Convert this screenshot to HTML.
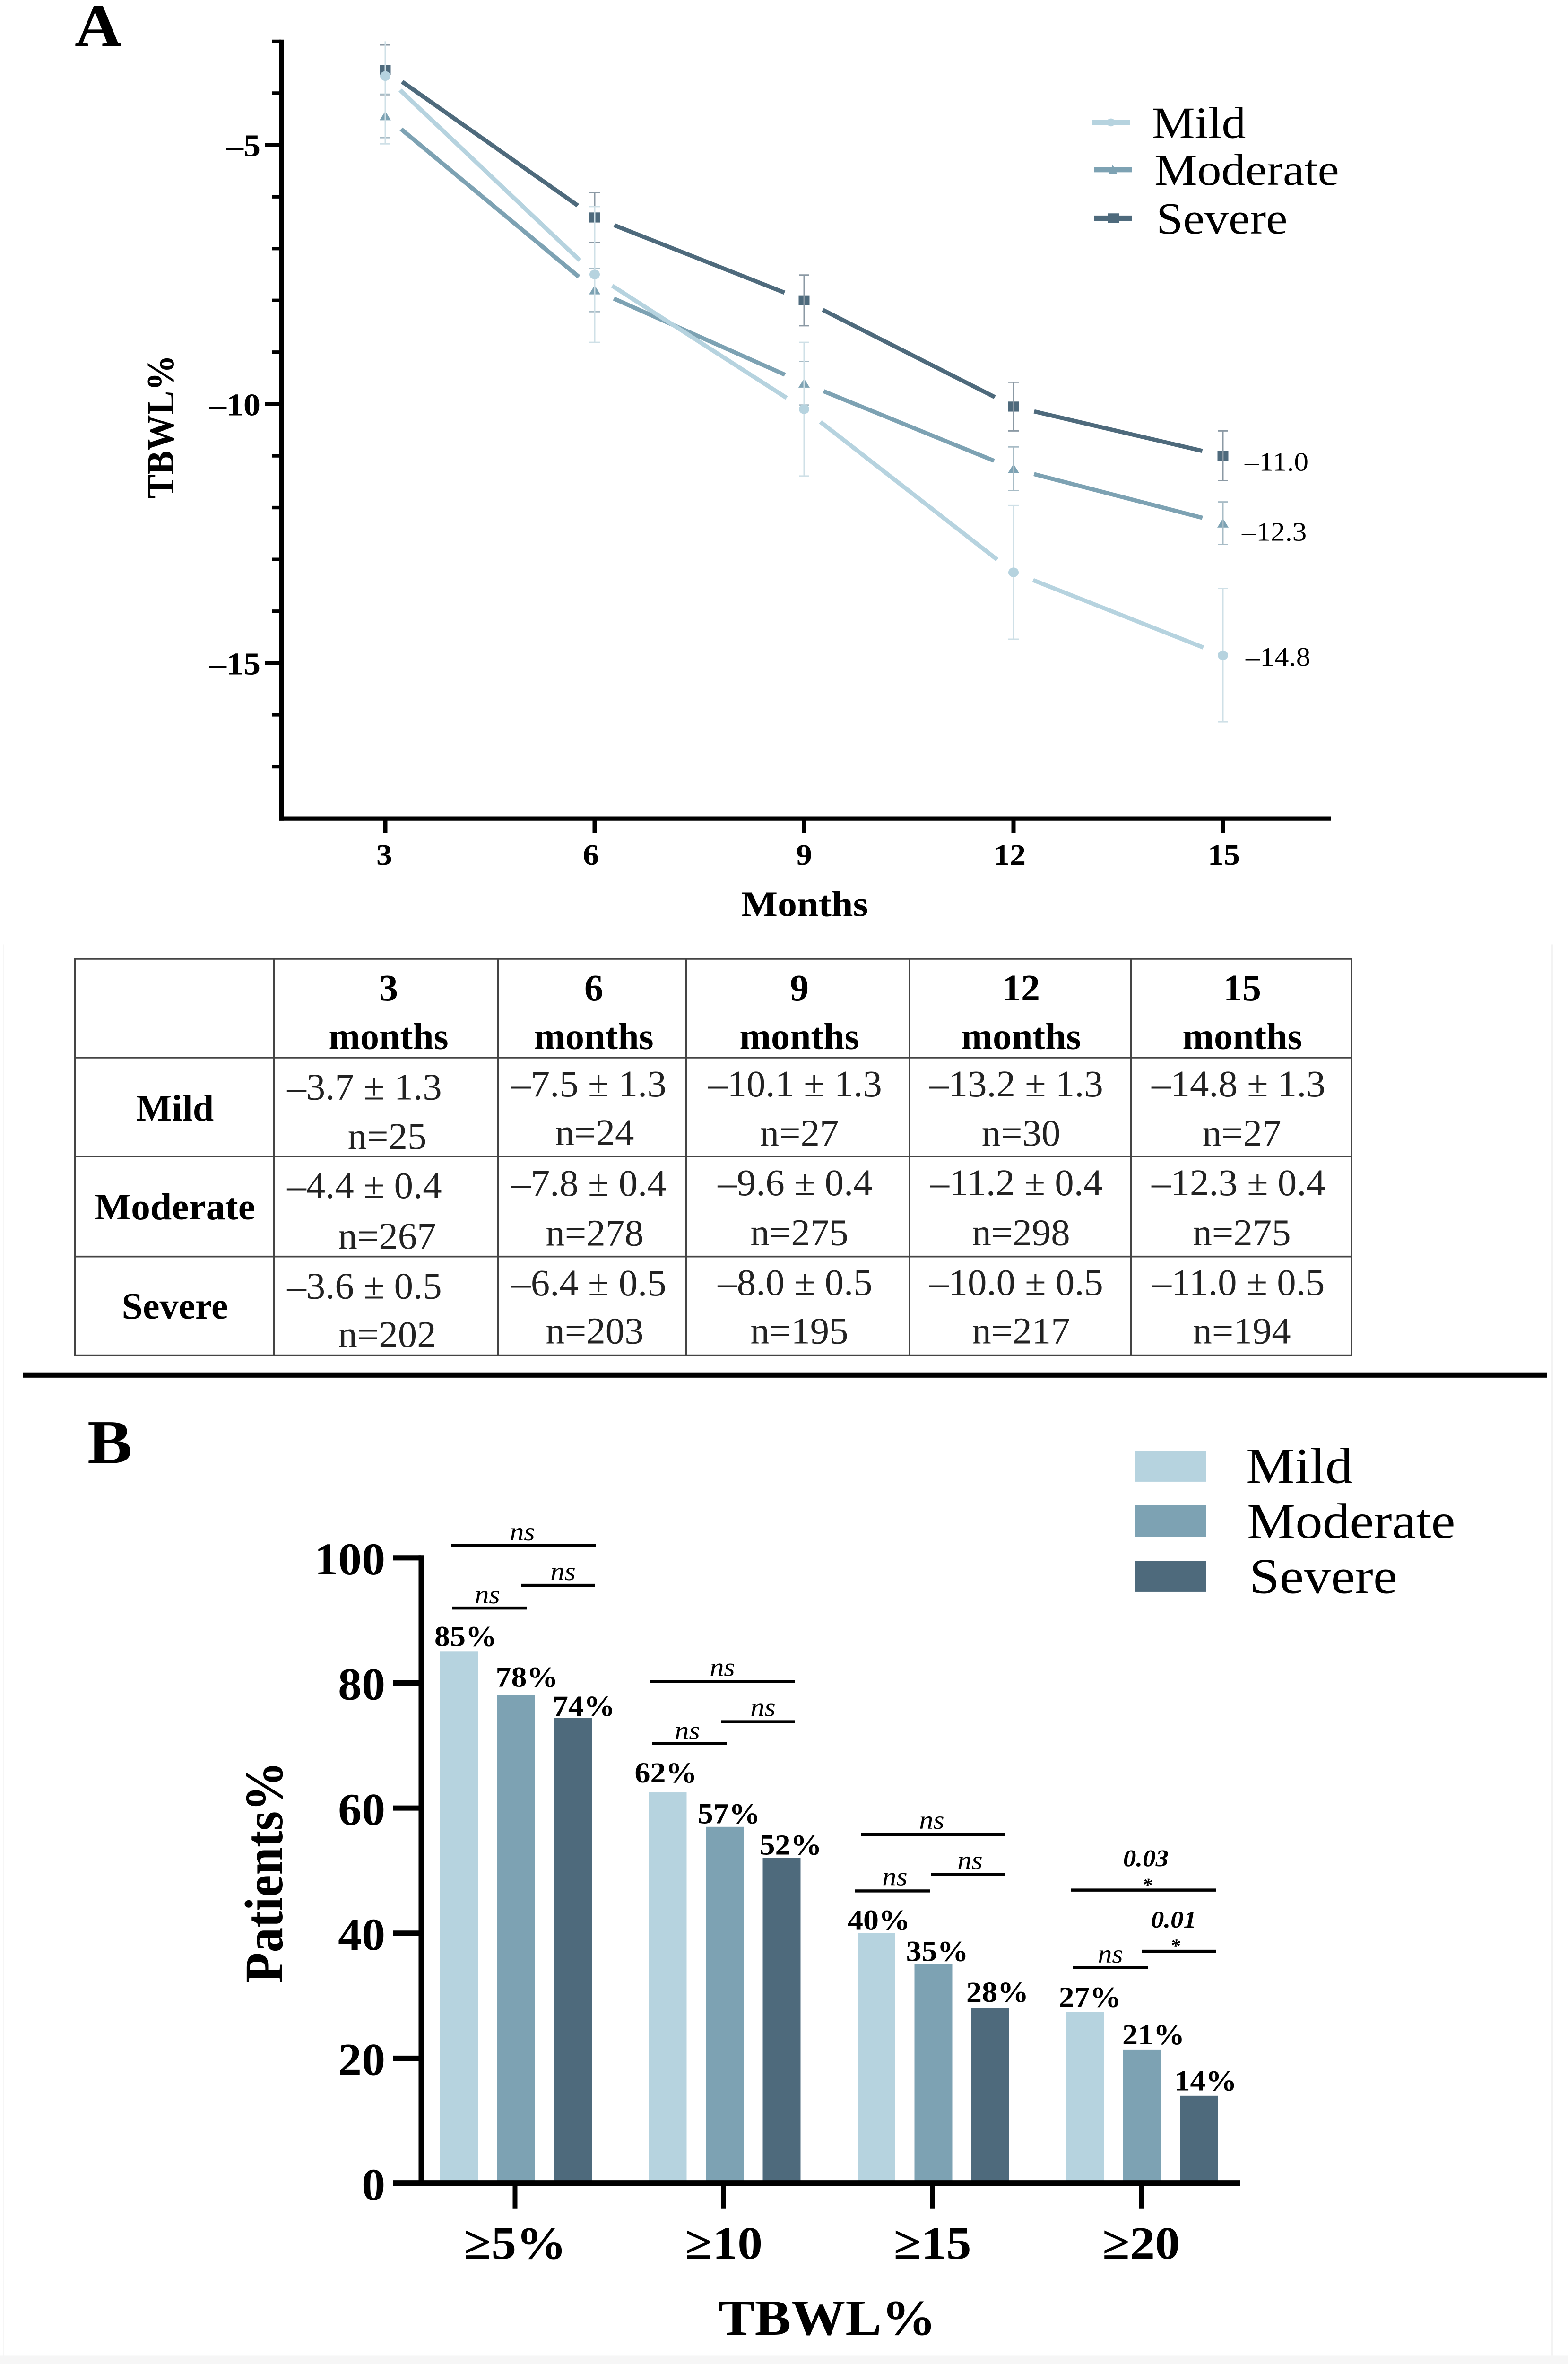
<!DOCTYPE html>
<html lang="en">
<head>
<meta charset="utf-8">
<title>TBWL% by obesity severity</title>
<style>
  html,body{margin:0;padding:0;background:#fff;width:100%;height:100%;overflow:hidden;}
  svg{display:block;width:100vw;height:100vh;font-family:"Liberation Serif",serif;}
  text{fill:#000;}
  .b{font-weight:bold;}
  .m{text-anchor:middle;}
  .e{text-anchor:end;}
  .tv{font-size:86px;text-anchor:middle;fill:#222;}
  .th{font-size:80px;font-weight:bold;text-anchor:middle;}
  .ns{font-size:60px;font-style:italic;text-anchor:middle;}
  .p{font-size:55px;font-style:italic;font-weight:bold;text-anchor:middle;}
  .s{font-size:42px;font-style:italic;font-weight:bold;text-anchor:middle;}
  .sig{stroke:#000;stroke-width:7;}
  .grid{stroke:#444;stroke-width:4;}
</style>
</head>
<body>
<svg id="fig" width="3317" height="5407" viewBox="0 0 3317 5407" preserveAspectRatio="none" xmlns="http://www.w3.org/2000/svg">
  <rect x="0" y="0" width="3317" height="5407" fill="#fff"/>
  <rect x="0" y="5388" width="3317" height="19" fill="#f6f6f6"/>
  <rect x="3282" y="2160" width="3" height="3228" fill="#f3f3f3"/>
  <rect x="6" y="2160" width="3" height="3228" fill="#f6f6f6"/>

  <!-- PANEL A -->
  <text x="158" y="105" font-size="138" class="b">A</text>
  <g id="chartA"></g>
  <text class="b m" font-size="82" transform="translate(367,976) rotate(-90)">TBWL%</text>
  <text class="b m" font-size="82" x="1702" y="2095">Months</text>

  <g>
    <g>
      <rect x="2311" y="274" width="79" height="12" fill="#b6d3df"/>
      <circle cx="2350" cy="280" r="9" fill="#b6d3df"/>
      <text x="2437" y="315" font-size="102">Mild</text>
    </g>
    <g>
      <rect x="2315" y="382" width="80" height="12" fill="#7da2b3"/>
      <polygon points="2354,377 2364,399 2344,399" fill="#7da2b3"/>
      <text x="2442" y="423" font-size="102">Moderate</text>
    </g>
    <g>
      <rect x="2315" y="493" width="80" height="12" fill="#4e6a7c"/>
      <rect x="2343" y="488" width="24" height="22" fill="#4e6a7c"/>
      <text x="2446" y="534" font-size="102">Severe</text>
    </g>
  </g>

  <!-- TABLE -->
  <g>
    <rect x="159" y="2193" width="2700" height="907" fill="none" class="grid"/>
    <line x1="579" y1="2193" x2="579" y2="3100" class="grid"/>
    <line x1="1054" y1="2193" x2="1054" y2="3100" class="grid"/>
    <line x1="1452" y1="2193" x2="1452" y2="3100" class="grid"/>
    <line x1="1924" y1="2193" x2="1924" y2="3100" class="grid"/>
    <line x1="2392" y1="2193" x2="2392" y2="3100" class="grid"/>
    <line x1="159" y1="2419" x2="2859" y2="2419" class="grid"/>
    <line x1="159" y1="2645" x2="2859" y2="2645" class="grid"/>
    <line x1="159" y1="2874" x2="2859" y2="2874" class="grid"/>

    <g>
      <text class="th" transform="translate(822,2288) scale(1,1.08)">3</text>
      <text class="th" transform="translate(822,2399) scale(1,1.08)">months</text>
      <text class="th" transform="translate(1256,2288) scale(1,1.08)">6</text>
      <text class="th" transform="translate(1256,2399) scale(1,1.08)">months</text>
      <text class="th" transform="translate(1691,2288) scale(1,1.08)">9</text>
      <text class="th" transform="translate(1691,2399) scale(1,1.08)">months</text>
      <text class="th" transform="translate(2160,2288) scale(1,1.08)">12</text>
      <text class="th" transform="translate(2160,2399) scale(1,1.08)">months</text>
      <text class="th" transform="translate(2628,2288) scale(1,1.08)">15</text>
      <text class="th" transform="translate(2628,2399) scale(1,1.08)">months</text>
    </g>

    <text class="th" transform="translate(370,2563) scale(1,1.08)">Mild</text>
    <text class="th" transform="translate(370,2789) scale(1.02,1.08)">Moderate</text>
    <text class="th" transform="translate(370,3016) scale(1,1.08)">Severe</text>

    <g>
      <text class="tv" transform="translate(771,2515) scale(.94,1)">–3.7 ± 1.3</text>
      <text class="tv" transform="translate(819,2628) scale(.94,1)">n=25</text>
      <text class="tv" transform="translate(1246,2508) scale(.94,1)">–7.5 ± 1.3</text>
      <text class="tv" transform="translate(1258,2619) scale(.94,1)">n=24</text>
      <text class="tv" transform="translate(1682,2508) scale(.94,1)">–10.1 ± 1.3</text>
      <text class="tv" transform="translate(1691,2620) scale(.94,1)">n=27</text>
      <text class="tv" transform="translate(2150,2508) scale(.94,1)">–13.2 ± 1.3</text>
      <text class="tv" transform="translate(2160,2620) scale(.94,1)">n=30</text>
      <text class="tv" transform="translate(2620,2508) scale(.94,1)">–14.8 ± 1.3</text>
      <text class="tv" transform="translate(2627,2620) scale(.94,1)">n=27</text>
    </g>
    <g>
      <text class="tv" transform="translate(771,2740) scale(.94,1)">–4.4 ± 0.4</text>
      <text class="tv" transform="translate(819,2856) scale(.94,1)">n=267</text>
      <text class="tv" transform="translate(1246,2735) scale(.94,1)">–7.8 ± 0.4</text>
      <text class="tv" transform="translate(1258,2849) scale(.94,1)">n=278</text>
      <text class="tv" transform="translate(1682,2734) scale(.94,1)">–9.6 ± 0.4</text>
      <text class="tv" transform="translate(1691,2848) scale(.94,1)">n=275</text>
      <text class="tv" transform="translate(2150,2734) scale(.94,1)">–11.2 ± 0.4</text>
      <text class="tv" transform="translate(2160,2848) scale(.94,1)">n=298</text>
      <text class="tv" transform="translate(2620,2734) scale(.94,1)">–12.3 ± 0.4</text>
      <text class="tv" transform="translate(2627,2848) scale(.94,1)">n=275</text>
    </g>
    <g>
      <text class="tv" transform="translate(771,2970) scale(.94,1)">–3.6 ± 0.5</text>
      <text class="tv" transform="translate(819,3081) scale(.94,1)">n=202</text>
      <text class="tv" transform="translate(1246,2963) scale(.94,1)">–6.4 ± 0.5</text>
      <text class="tv" transform="translate(1258,3073) scale(.94,1)">n=203</text>
      <text class="tv" transform="translate(1682,2962) scale(.94,1)">–8.0 ± 0.5</text>
      <text class="tv" transform="translate(1691,3073) scale(.94,1)">n=195</text>
      <text class="tv" transform="translate(2150,2962) scale(.94,1)">–10.0 ± 0.5</text>
      <text class="tv" transform="translate(2160,3073) scale(.94,1)">n=217</text>
      <text class="tv" transform="translate(2620,2962) scale(.94,1)">–11.0 ± 0.5</text>
      <text class="tv" transform="translate(2627,3073) scale(.94,1)">n=194</text>
    </g>
  </g>

  <rect x="48" y="3139" width="3225" height="12" fill="#000"/>

  <!-- PANEL B -->
  <text x="185" y="3346" font-size="142" class="b">B</text>
  <g id="chartB"></g>
  <text class="b m" font-size="114" transform="translate(597,4282) rotate(-90)">Patients%</text>
  <text class="b m" font-size="115" x="1750" y="5340">TBWL%</text>

  <g>
    <g>
      <rect x="2401" y="3318" width="150" height="71" fill="#b6d3df"/>
      <text x="2636" y="3392" font-size="116">Mild</text>
    </g>
    <g>
      <rect x="2401" y="3443" width="150" height="72" fill="#7da2b3"/>
      <text x="2638" y="3518" font-size="115">Moderate</text>
    </g>
    <g>
      <rect x="2401" y="3570" width="150" height="71" fill="#4e6a7c"/>
      <text x="2643" y="3644" font-size="115">Severe</text>
    </g>
  </g>

  <g>
    <g>
      <line x1="954" y1="3535" x2="1260" y2="3535" class="sig"/>
      <text x="1105" y="3523" class="ns">ns</text>
      <line x1="956" y1="3678" x2="1114" y2="3678" class="sig"/>
      <text x="1031" y="3667" class="ns">ns</text>
      <line x1="1102" y1="3626" x2="1258" y2="3626" class="sig"/>
      <text x="1191" y="3614" class="ns">ns</text>
    </g>
    <g>
      <line x1="1376" y1="3846" x2="1682" y2="3846" class="sig"/>
      <text x="1528" y="3833" class="ns">ns</text>
      <line x1="1379" y1="3988" x2="1538" y2="3988" class="sig"/>
      <text x="1454" y="3978" class="ns">ns</text>
      <line x1="1526" y1="3938" x2="1682" y2="3938" class="sig"/>
      <text x="1614" y="3925" class="ns">ns</text>
    </g>
    <g>
      <line x1="1821" y1="4196" x2="2127" y2="4196" class="sig"/>
      <text x="1971" y="4183" class="ns">ns</text>
      <line x1="1808" y1="4325" x2="1968" y2="4325" class="sig"/>
      <text x="1893" y="4312" class="ns">ns</text>
      <line x1="1970" y1="4287" x2="2126" y2="4287" class="sig"/>
      <text x="2052" y="4275" class="ns">ns</text>
    </g>
    <g>
      <line x1="2266" y1="4323" x2="2572" y2="4323" class="sig"/>
      <text x="2424" y="4269" class="p">0.03</text>
      <text x="2427" y="4325" class="s">*</text>
      <line x1="2269" y1="4500" x2="2428" y2="4500" class="sig"/>
      <text x="2349" y="4489" class="ns">ns</text>
      <line x1="2416" y1="4463" x2="2572" y2="4463" class="sig"/>
      <text x="2483" y="4409" class="p">0.01</text>
      <text x="2486" y="4464" class="s">*</text>
    </g>
  </g>
</svg>

<script>
// ---- Panel A data ----
const months = [3, 6, 9, 12, 15];
const mildMean = [-3.67, -7.5, -10.1, -13.25, -14.85];
const moderateMean = [-4.44, -7.8, -9.6, -11.25, -12.3];
const severeMean = [-3.55, -6.4, -8.0, -10.05, -11.0];
const mildError = [1.31, 1.31, 1.29, 1.29, 1.29];
const moderateError = [0.42, 0.42, 0.42, 0.42, 0.41];
const severeError = [0.48, 0.48, 0.49, 0.47, 0.48];
const lineYTicks = [-5, -10, -15];
const lineYTickLabels = ['–5', '–10', '–15'];
const lineYMinorTicks = [-3, -4, -6, -7, -8, -9, -11, -12, -13, -14, -16, -17];
const endLabels = ['–14.8', '–12.3', '–11.0'];

// ---- Panel B data ----
const barCategories = ['≥5%', '≥10', '≥15', '≥20'];
const barMild = [85, 62.5, 40, 27.4];
const barModerate = [78, 57, 35, 21.4];
const barSevere = [74.4, 52, 28.1, 14];
const barMildLabels = ['85%', '62%', '40%', '27%'];
const barModerateLabels = ['78%', '57%', '35%', '21%'];
const barSevereLabels = ['74%', '52%', '28%', '14%'];
const barYTicks = [0, 20, 40, 60, 80, 100];

const SVGNS = 'http://www.w3.org/2000/svg';
function mk(tag, attrs, parent, text) {
  const el = document.createElementNS(SVGNS, tag);
  for (const k in attrs) el.setAttribute(k, attrs[k]);
  if (text !== undefined) el.textContent = text;
  parent.appendChild(el);
  return el;
}

const COL = { mild: '#b6d3df', moderate: '#7da2b3', severe: '#4e6a7c' };

// ---- Panel A ----
const chartA = document.getElementById('chartA');
const xA = m => 815 + (m - 3) * (443 / 3);
const yA = v => 331.5 + (-5 - v) * 118.5;
const AXIS_TOP_VALUE = -3;

const yAxisA = mk('line', { x1: 595, y1: yA(-3) - 4, x2: 595, y2: 1877, stroke: '#000', 'stroke-width': 10 }, chartA);


const xAxisA = mk('line', { x1: 590, y1: 1872, x2: 2816, y2: 1872, stroke: '#000', 'stroke-width': 10 }, chartA);



lineYMinorTicks.forEach(v => {
  const t = mk('line', { x1: 575, y1: yA(v), x2: 595, y2: yA(v), stroke: '#000', 'stroke-width': 8 }, chartA);
  
  
});
lineYTicks.forEach((v, i) => {
  const t = mk('line', { x1: 561, y1: yA(v), x2: 595, y2: yA(v), stroke: '#000', 'stroke-width': 8 }, chartA);
  
  
  const l = mk('text', { x: 551, y: yA(v) + 26, 'font-size': 72, class: 'b e' }, chartA, lineYTickLabels[i]);
  
  
});
const monthLabelNudge = [-2, -8, 0, -8, 2];
months.forEach((m, i) => {
  const t = mk('line', { x1: xA(m), y1: 1872, x2: xA(m), y2: 1905, stroke: '#000', 'stroke-width': 9 }, chartA);
  
  
  const l = mk('text', { x: xA(m) + monthLabelNudge[i], y: 1978, 'font-size': 68, class: 'b m' }, chartA, String(m));
  
  
});

function drawSeries(key, means, errs, errColor, errWidth) {
  const g = mk('g', {}, chartA);
  
  
  const INSET = 45;
  // line segments, each stopping short of its markers
  for (let i = 0; i < means.length - 1; i++) {
    const x1 = xA(months[i]), y1 = yA(means[i]), x2 = xA(months[i + 1]), y2 = yA(means[i + 1]);
    const len = Math.hypot(x2 - x1, y2 - y1);
    const ux = (x2 - x1) / len, uy = (y2 - y1) / len;
    const seg = mk('line', {
      x1: x1 + ux * INSET, y1: y1 + uy * INSET,
      x2: x2 - ux * INSET, y2: y2 - uy * INSET,
      stroke: COL[key], 'stroke-width': 9.5
    }, g);
    
    
  }
  // error bars
  means.forEach((v, i) => {
    const cx = xA(months[i]);
    const hiV = v + errs[i], loV = v - errs[i];
    const clipped = hiV > AXIS_TOP_VALUE;
    const top = clipped ? yA(AXIS_TOP_VALUE) : yA(hiV);
    const bot = yA(loV);
    const eb = mk('line', { x1: cx, y1: top, x2: cx, y2: bot, stroke: errColor, 'stroke-width': errWidth }, g);
    
    
    if (!clipped) {
      const c1 = mk('line', { x1: cx - 11, y1: top, x2: cx + 11, y2: top, stroke: errColor, 'stroke-width': errWidth }, g);
      
      
    }
    const c2 = mk('line', { x1: cx - 11, y1: bot, x2: cx + 11, y2: bot, stroke: errColor, 'stroke-width': errWidth }, g);
    
    
  });
}
function drawMarkers(key, means) {
  const g = mk('g', {}, chartA);
  
  
  means.forEach((v, i) => {
    const cx = xA(months[i]), cy = yA(v);
    let mark;
    if (key === 'mild') {
      mark = mk('circle', { cx: cx, cy: cy, r: 11, fill: COL.mild }, g);
    } else if (key === 'moderate') {
      mark = mk('polygon', { points: (cx) + ',' + (cy - 11) + ' ' + (cx + 12) + ',' + (cy + 10) + ' ' + (cx - 12) + ',' + (cy + 10), fill: COL.moderate }, g);
    } else {
      mark = mk('rect', { x: cx - 11.5, y: cy - 11.5, width: 23, height: 23, fill: COL.severe }, g);
    }
    
    
  });
}
drawMarkers('severe', severeMean);
drawSeries('severe', severeMean, severeError, '#8b99a4', 3);
drawMarkers('moderate', moderateMean);
drawSeries('moderate', moderateMean, moderateError, '#a8bcc6', 3);
drawSeries('mild', mildMean, mildError, '#cfe0e7', 3);
drawMarkers('mild', mildMean);

const endLast = [mildMean, moderateMean, severeMean];
const endLabelDx = [48, 40, 46];
const endLabelDy = [24, 40, 34];
endLast.forEach((s, i) => {
  const l = mk('text', { x: xA(months[4]) + endLabelDx[i], y: yA(s[4]) + endLabelDy[i], 'font-size': 61 }, chartA, endLabels[i]);
  
  
});

// ---- Panel B ----
const chartB = document.getElementById('chartB');
const yB = v => 4994 - v * 14.31;
const xB = i => 1091.5 + i * 441.5;
const BAR_W = 80, BAR_STEP = 120.5;

const barSeries = [
  ['mild', barMild, barMildLabels, -1, [14, -4, 5, 10], [13, 23, 8, 12]],
  ['moderate', barModerate, barModerateLabels, 0, [23, 9, 8, 24], [20, 8, 8, 12]],
  ['severe', barSevere, barSevereLabels, 1, [23, 19, 15, 14], [5, 8, 13, 12]]
];
barSeries.forEach(row => {
  const key = row[0], vals = row[1], labs = row[2], off = row[3], dx = row[4], gap = row[5];
  vals.forEach((v, i) => {
    const cx = xB(i) + off * BAR_STEP;
    const bar = mk('rect', { x: cx - BAR_W / 2, y: yB(v), width: BAR_W, height: 4994 - yB(v), fill: COL[key] }, chartB);
    
    
    const l = mk('text', { x: cx + dx[i], y: yB(v) - gap[i], 'font-size': 66, class: 'b m' }, chartB, labs[i]);
    
    
  });
});

const yAxisB = mk('line', { x1: 891, y1: yB(100) - 6, x2: 891, y2: 4994, stroke: '#000', 'stroke-width': 11 }, chartB);


const xAxisB = mk('line', { x1: 832, y1: 4993, x2: 2624, y2: 4993, stroke: '#000', 'stroke-width': 13 }, chartB);



barYTicks.forEach(v => {
  if (v !== 0) {
    const t = mk('line', { x1: 832, y1: yB(v), x2: 891, y2: yB(v), stroke: '#000', 'stroke-width': 12 }, chartB);
    
    
  }
  const l = mk('text', { transform: 'translate(815,' + (yB(v) + 38) + ') scale(.96,1)', 'font-size': 104, class: 'b e' }, chartB, String(v));
  
  
});
barCategories.forEach((c, i) => {
  const t = mk('line', { x1: xB(i) - 2, y1: 4993, x2: xB(i) - 2, y2: 5052, stroke: '#000', 'stroke-width': 10 }, chartB);
  
  
  const l = mk('text', { x: xB(i) - 2, y: 5166, 'font-size': 106, class: 'b m' }, chartB, c);
  
  
});
</script>
</body>
</html>
